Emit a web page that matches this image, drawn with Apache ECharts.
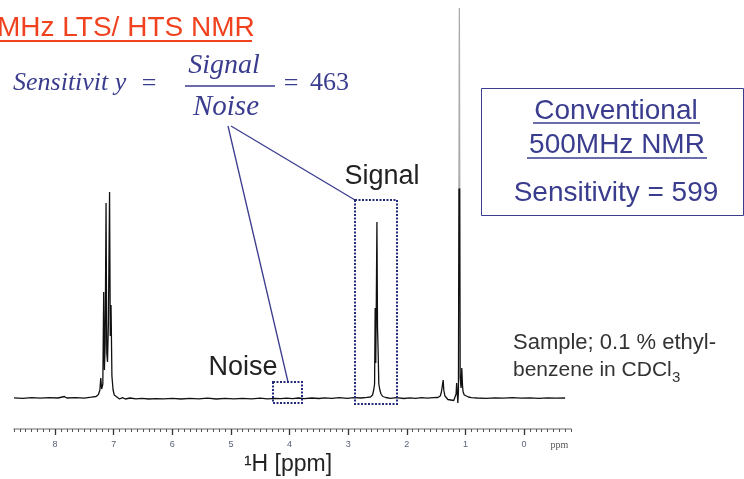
<!DOCTYPE html>
<html>
<head>
<meta charset="utf-8">
<script src="https://cdn.jsdelivr.net/npm/echarts@6/dist/echarts.min.js"></script>
<style>
  html, body { margin: 0; padding: 0; background: #ffffff; }
  #chart { width: 744px; height: 479px; }
</style>
</head>
<body>
<div id="chart"></div>
<script>
// 1H NMR spectrum of 0.1 % ethylbenzene in CDCl3 (chemical shift in ppm, intensity in arbitrary units)
const specPpm = [
  8.70, 8.55, 8.40, 8.25, 8.10, 7.95, 7.84, 7.80, 7.65, 7.50, 7.38, 7.30, 7.26, 7.235,
  7.22, 7.205, 7.185, 7.17, 7.158, 7.145, 7.13, 7.118, 7.105, 7.09, 7.07, 7.058, 7.045,
  7.03, 7.01, 6.99, 6.96, 6.90, 6.85, 6.80, 6.72, 6.62, 6.52, 6.40, 6.28, 6.15, 6.00,
  5.85, 5.70, 5.55, 5.40, 5.25, 5.10, 4.95, 4.80, 4.65, 4.50, 4.38, 4.25, 4.15, 4.05,
  3.95, 3.85, 3.75, 3.62, 3.50, 3.40, 3.28, 3.15, 3.02, 2.90, 2.78, 2.68, 2.62, 2.585,
  2.565, 2.55, 2.54, 2.53, 2.52, 2.51, 2.50, 2.49, 2.478, 2.46, 2.44, 2.41, 2.36, 2.28,
  2.18, 2.05, 1.95, 1.85, 1.75, 1.65, 1.55, 1.47, 1.43, 1.41, 1.395, 1.38, 1.37, 1.35,
  1.33, 1.30, 1.25, 1.20, 1.17, 1.16, 1.15, 1.13, 1.12, 1.104, 1.09, 1.075, 1.063, 1.05,
  1.04, 1.02, 1.00, 0.95, 0.90, 0.80, 0.65, 0.50, 0.35, 0.20, 0.05, -0.10, -0.25, -0.40,
  -0.55, -0.70
];
const specInt = [
  0.2, -0.3, 0.3, -0.2, 0.4, 0, 1.5, 0, 0.4, -0.2, 0.8, 1.5, 3.5, 8,
  20, 9, 14, 106, 28, 55, 195, 45, 36, 75, 206, 62, 93,
  22, 8, 3, 1, -1, 0.3, -1, 0, -0.8, -0.3, -1, -0.7, -0.9, -0.3,
  -1, -0.3, -0.8, -0.2, -1, -0.4, -0.9, -0.3, -0.8, -0.2, -0.9, -0.3, -0.7, -0.1,
  -0.7, 0, -0.6, 0, -0.5, 0.2, -0.4, 0.3, -0.3, 0.4, 0, 0.6, 1, 3,
  8, 14, 90, 35, 100, 176, 70, 48, 14, 8, 4, 1.5, 0.5, -0.4,
  0.3, -0.5, 0.2, -0.3, 0.3, -0.2, 0.3, 0.5, 2, 6, 12, 18, 8, 2,
  0, -1.5, -2, -2.5, -1, 4, 15, -5, 6, 390, 20, 10, 30, 12,
  6, 3, 2, 1, 0.4, 0, -0.3, 0.2, -0.2, 0.3, -0.2, 0.2, -0.3, 0.2,
  -0.2, 0
];

// ppm scale: integer tick marks and their labels
const tickValues = [8, 7, 6, 5, 4, 3, 2, 1, 0];
const labelValues = [8, 7, 6, 5, 4, 3, 2, 1, 0, -0.6];
const labelTexts = ['8', '7', '6', '5', '4', '3', '2', '1', '0', 'ppm'];

const sans = '"Liberation Sans", Arial, sans-serif';
const serif = '"Liberation Serif", "Times New Roman", serif';
const navy = '#3a3c8e';
const boxNavy = '#232a7c';

const spectrum = specPpm.map((p, i) => [p, specInt[i]]);

const chart = echarts.init(document.getElementById('chart'), null, { renderer: 'canvas' });

function txt(text, x, y, font, fill, align) {
  return {
    type: 'text', x: x, y: y, z: 100,
    style: { text: text, font: font, fill: fill, align: align || 'center', verticalAlign: 'middle' }
  };
}
function seg(x1, y1, x2, y2, stroke, w) {
  return {
    type: 'line', z: 100,
    shape: { x1: x1, y1: y1, x2: x2, y2: y2 },
    style: { stroke: stroke, lineWidth: w }
  };
}
function box(x, y, w, h, stroke, lw, dash) {
  return {
    type: 'rect', z: 100,
    shape: { x: x, y: y, width: w, height: h },
    style: { fill: 'none', stroke: stroke, lineWidth: lw, lineDash: dash || null }
  };
}

// the off-scale tip of the methyl line fades to grey near the top of the plot
const traceColor = new echarts.graphic.LinearGradient(0, 0, 0, 479, [
  { offset: 0, color: '#ababab' },
  { offset: 0.393, color: '#ababab' },
  { offset: 0.394, color: '#111111' },
  { offset: 1, color: '#111111' }
], true);

chart.setOption({
  animation: false,
  backgroundColor: '#ffffff',
  grid: { left: 14, right: 173, top: 8, bottom: 50 },
  xAxis: [
    {
      type: 'value', min: -0.8, max: 8.7, interval: 0.1, inverse: true,
      axisLine: { onZero: false, lineStyle: { color: '#9b9b9b', width: 1.5 } },
      axisTick: { length: 3, lineStyle: { color: '#555555', width: 1 } },
      axisLabel: { show: false },
      splitLine: { show: false }
    },
    {
      type: 'value', min: -0.8, max: 8.7, inverse: true, position: 'bottom',
      axisLine: { show: false, onZero: false },
      axisTick: { customValues: tickValues, length: 6, lineStyle: { color: '#333333', width: 1.3 } },
      axisLabel: {
        customValues: labelValues, margin: 11, fontSize: 9, color: '#5a6076', fontFamily: sans,
        formatter: function (v) {
          const i = labelValues.findIndex(l => Math.abs(l - v) < 1e-6);
          const t = i >= 0 ? labelTexts[i] : '';
          return t === 'ppm' ? '{u|ppm}' : t;
        },
        rich: { u: { fontFamily: serif, fontSize: 10, color: '#555555' } }
      },
      splitLine: { show: false }
    }
  ],
  yAxis: { type: 'value', min: -31, max: 390, show: false },
  series: [{
    type: 'line', xAxisIndex: 0, data: spectrum, showSymbol: false, symbol: 'none',
    lineStyle: { width: 1.3, color: traceColor }, z: 5
  }],
  graphic: [
    // heading
    txt('MHz LTS/ HTS NMR', -3, 28, '28px ' + sans, '#f0421f', 'left'),
    seg(0, 41, 252, 41, '#f0421f', 2),
    // sensitivity formula
    txt('Sensitivit y', 13, 83, 'italic 26px ' + serif, navy, 'left'),
    txt('=', 149, 84, '26px ' + serif, navy),
    txt('Signal', 224, 66, 'italic 28px ' + serif, navy),
    seg(185, 86, 275, 86, navy, 1.5),
    txt('Noise', 226, 107, 'italic 29px ' + serif, navy),
    txt('=', 291, 84, '26px ' + serif, navy),
    txt('463', 310, 83, '26px ' + serif, navy, 'left'),
    // connectors from the formula to the marked regions
    seg(228, 126, 288, 382, navy, 1.3),
    seg(231, 126, 355, 200, navy, 1.3),
    // marked regions
    box(355, 200, 42, 204, boxNavy, 2, [2, 1.5]),
    box(273, 382, 29, 21, boxNavy, 2, [2, 1.5]),
    txt('Signal', 382, 177, '27px ' + sans, '#222222'),
    txt('Noise', 243, 368, '27px ' + sans, '#222222'),
    // conventional instrument panel
    box(481.5, 88.5, 262, 127, navy, 1),
    txt('Conventional', 616, 111, '28px ' + sans, navy),
    seg(533, 123, 700, 123, navy, 1.5),
    txt('500MHz NMR', 617, 145, '28px ' + sans, navy),
    seg(527, 158, 707, 158, navy, 1.5),
    txt('Sensitivity = 599', 616, 193, '28px ' + sans, navy),
    // sample note
    txt('Sample; 0.1 % ethyl-', 513, 343, '22px ' + sans, '#333333', 'left'),
    txt('benzene in CDCl', 513, 370, '21px ' + sans, '#333333', 'left'),
    txt('3', 672, 378, '15px ' + sans, '#333333', 'left'),
    // axis title
    txt('\u00b9H [ppm]', 288, 465, '23px ' + sans, '#222222')
  ]
});
</script>
</body>
</html>
